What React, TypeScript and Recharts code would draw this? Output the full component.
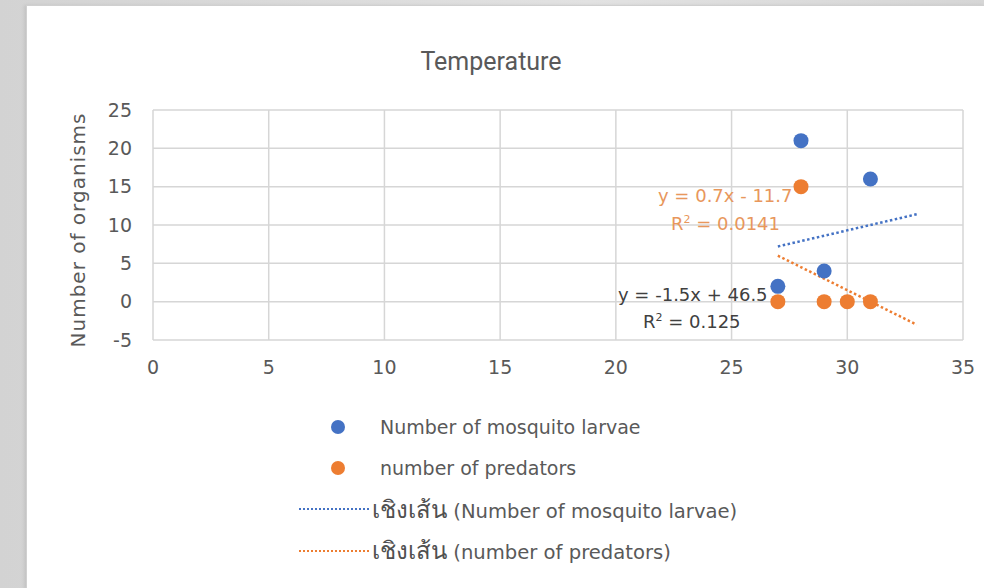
import React from 'react';
import { CartesianGrid, Scatter, ScatterChart, XAxis, YAxis } from 'recharts';

// Temperature (°C) vs number of organisms
const larvae = [
  { x: 27, y: 2 },
  { x: 28, y: 21 },
  { x: 29, y: 4 },
  { x: 31, y: 16 },
];

const predators = [
  { x: 27, y: 0 },
  { x: 28, y: 15 },
  { x: 29, y: 0 },
  { x: 30, y: 0 },
  { x: 31, y: 0 },
];

// linear trendlines, drawn over the 27 → 33 range
const trendRange = [27, 33];
const larvaeFit = { slope: 0.7, intercept: -11.7 };
const predatorsFit = { slope: -1.5, intercept: 46.5 };

const xTicks = [0, 5, 10, 15, 20, 25, 30, 35];
const yTicks = [-5, 0, 5, 10, 15, 20, 25];

const BLUE = '#4472C4';
const ORANGE = '#ED7D31';
const AXIS_TEXT = '#595959';
const FONT = '"DejaVu Sans", sans-serif';

const fitLine = (fit: { slope: number; intercept: number }) =>
  trendRange.map((x) => ({ x, y: +(fit.slope * x + fit.intercept).toFixed(2) }));

const larvaeTrend = fitLine(larvaeFit);
const predatorsTrend = fitLine(predatorsFit);

const Dot = (color: string) => (props: any) => (
  <circle cx={props.cx} cy={props.cy} r={7.5} fill={color} />
);

const NoDot = () => <g />;

const TREND_PREFIX = 'เชิงเส้น';

const legendRows = [
  { kind: 'dot', color: BLUE, text: 'Number of mosquito larvae' },
  { kind: 'dot', color: ORANGE, text: 'number of predators' },
  { kind: 'line', color: BLUE, text: '(Number of mosquito larvae)' },
  { kind: 'line', color: ORANGE, text: '(number of predators)' },
];

const eqStyle = (left: number, top: number, color: string): React.CSSProperties => ({
  position: 'absolute',
  left,
  top,
  fontSize: 18,
  lineHeight: '20px',
  whiteSpace: 'nowrap',
  color,
});

export default function App() {
  return (
    <div
      style={{
        position: 'absolute',
        left: 0,
        top: 0,
        width: 984,
        height: 588,
        overflow: 'hidden',
        background: 'linear-gradient(90deg, #d3d3d3, #e2e2e2 60%, #d6d6d6)',
      }}
    >
      <div
        style={{
          position: 'absolute',
          left: 26,
          top: 5,
          width: 958,
          height: 583,
          background: '#fff',
          borderLeft: '1px solid #d0d0d0',
          borderTop: '1px solid #d0d0d0',
          boxShadow: '-2px 0 3px rgba(0,0,0,0.08)',
          fontFamily: FONT,
        }}
      >
        <div
          style={{
            position: 'absolute',
            left: 0,
            width: 928,
            top: 41,
            textAlign: 'center',
            fontSize: 25,
            fontFamily: 'Roboto, sans-serif',
            color: AXIS_TEXT,
          }}
        >
          Temperature
        </div>

        <ScatterChart
          width={958}
          height={583}
          margin={{ top: 104, right: 22, bottom: 209, left: 0 }}
          style={{ position: 'absolute', left: 0, top: 0 }}
        >
          <CartesianGrid stroke="#d6d6d6" strokeWidth={1.5} />
          <XAxis
            type="number"
            dataKey="x"
            domain={[0, 35]}
            ticks={xTicks}
            height={40}
            tickLine={false}
            axisLine={false}
            tickSize={0}
            tickMargin={21}
            tick={{ fill: AXIS_TEXT, fontSize: 19, fontFamily: FONT }}
          />
          <YAxis
            type="number"
            dataKey="y"
            domain={[-5, 25]}
            ticks={yTicks}
            width={126}
            tickLine={false}
            axisLine={false}
            tickSize={0}
            tickMargin={21}
            tick={{ fill: AXIS_TEXT, fontSize: 19, fontFamily: FONT }}
            label={{
              value: 'Number of organisms',
              angle: -90,
              position: 'insideLeft',
              offset: 51,
              dy: 5,
              fill: AXIS_TEXT,
              fontSize: 20,
              fontFamily: FONT,
              style: { textAnchor: 'middle', letterSpacing: 1 },
            }}
          />
          <Scatter
            data={larvaeTrend}
            shape={NoDot}
            line={{ stroke: BLUE, strokeWidth: 2.5, strokeDasharray: '2.5 2.5' }}
            isAnimationActive={false}
          />
          <Scatter
            data={predatorsTrend}
            shape={NoDot}
            line={{ stroke: ORANGE, strokeWidth: 2.5, strokeDasharray: '2.5 2.5' }}
            isAnimationActive={false}
          />
          <Scatter data={larvae} shape={Dot(BLUE)} isAnimationActive={false} />
          <Scatter data={predators} shape={Dot(ORANGE)} isAnimationActive={false} />
        </ScatterChart>

        {/* trendline equations */}
        <div style={eqStyle(631, 180, '#E8975C')}>y = 0.7x - 11.7</div>
        <div style={eqStyle(644, 208, '#E8975C')}>
          R<sup style={{ fontSize: 11, lineHeight: 0 }}>2</sup> = 0.0141
        </div>
        <div style={eqStyle(591, 279, '#404040')}>y = -1.5x + 46.5</div>
        <div style={eqStyle(616, 306, '#404040')}>
          R<sup style={{ fontSize: 11, lineHeight: 0 }}>2</sup> = 0.125
        </div>

        {/* legend */}
        <div style={{ position: 'absolute', left: 268, top: 400 }}>
          {legendRows.map((row) => (
            <div
              key={row.color + row.kind}
              style={{
                display: 'flex',
                alignItems: 'center',
                height: 41.3,
                fontSize: 19,
                color: AXIS_TEXT,
                whiteSpace: 'nowrap',
              }}
            >
              <div
                style={{
                  width: 74,
                  display: 'flex',
                  justifyContent: row.kind === 'dot' ? 'center' : 'flex-end',
                }}
              >
                {row.kind === 'dot' ? (
                  <div
                    style={{ width: 14, height: 14, borderRadius: 7, background: row.color, marginLeft: 12 }}
                  />
                ) : (
                  <div style={{ width: 70, borderTop: `2.5px dotted ${row.color}` }} />
                )}
              </div>
              {row.kind === 'dot' ? (
                <div style={{ marginLeft: 11 }}>{row.text}</div>
              ) : (
                <div style={{ marginLeft: 3, fontSize: 19.6 }}>
                  <span style={{ fontSize: 24, color: '#505050' }}>{TREND_PREFIX}</span> {row.text}
                </div>
              )}
            </div>
          ))}
        </div>
      </div>
    </div>
  );
}
